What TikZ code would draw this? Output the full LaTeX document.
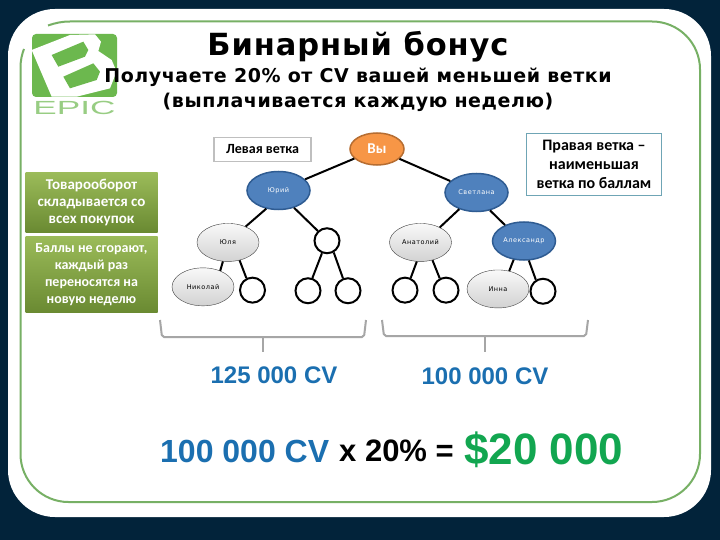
\documentclass[tikz,border=0pt]{standalone}
\usepackage{fontspec}
\setmainfont{Liberation Sans}
\newfontfamily\titlefont[LetterSpace=3]{DejaVu Sans}
\newfontfamily\treefont[LetterSpace=8]{DejaVu Sans}
\newfontfamily\boxfont{Carlito}
\usetikzlibrary{positioning,shapes.geometric}
\definecolor{backdrop}{HTML}{02233A}
\definecolor{framegreen}{HTML}{77B065}
\definecolor{logogreen}{HTML}{6CB84E}
\definecolor{cvblue}{HTML}{1B6FB0}
\definecolor{sumgreen}{HTML}{12A650}
\definecolor{youfill}{HTML}{F79646}
\definecolor{youline}{HTML}{B66D31}
\definecolor{bluefill}{HTML}{4F81BD}
\definecolor{blueline}{HTML}{2F5C92}
\definecolor{boxtop}{HTML}{9BBB59}
\definecolor{boxbottom}{HTML}{6A8A32}
\definecolor{noteline}{HTML}{6FA5B5}

\begin{document}
\begin{tikzpicture}[
  x=1pt, y=-1pt,
  font=\treefont,
  node distance=10pt and 10pt,
  you/.style={draw=youline, line width=1.5pt, ellipse, fill=youfill, text=white,
              minimum width=54pt, minimum height=32pt, inner sep=0pt},
  bluenode/.style={draw=blueline, line width=1.5pt, ellipse, fill=bluefill, text=white,
              minimum width=63pt, minimum height=38pt, inner sep=0pt, font=\treefont\fontsize{6.5}{7}\selectfont},
  graynode/.style={draw=black!75, ellipse, top color=gray!5, bottom color=gray!35,
              minimum width=62pt, minimum height=38pt, inner sep=0pt, font=\treefont\fontsize{6.5}{7}\selectfont},
  emptynode/.style={draw=black, line width=2pt, circle, fill=white, minimum size=25pt, inner sep=0pt},
  edge/.style={draw=black, line width=2pt},
  brace/.style={draw=gray!70, line width=2pt, rounded corners=2pt},
  greenbox/.style={top color=boxtop, bottom color=boxbottom, text=white,
              align=center, minimum width=132pt, inner sep=0pt,
              font=\boxfont\bfseries\fontsize{14}{17}\selectfont},
  note/.style={draw, fill=white, align=center, inner sep=0pt, font=\boxfont\bfseries\fontsize{14}{19}\selectfont},
  cvtext/.style={text=cvblue, font=\bfseries\fontsize{24}{28}\selectfont, inner sep=0pt}
]
\useasboundingbox (0,0) rectangle (720,540);
\fill[backdrop] (0,0) rectangle (720,540);
\fill[white, rounded corners=47pt] (8,9) rectangle (711,517);
% frame, open at the upper left corner
\draw[framegreen, line width=2pt] (48,25.5) .. controls (55,23) and (62,21.5) .. (70,21.5) -- (652,21.5)
  arc[start angle=-90, end angle=0, radius=48] -- (700,454)
  arc[start angle=0, end angle=90, radius=48] -- (68.5,502)
  arc[start angle=90, end angle=180, radius=48] -- (20.5,68) .. controls (20.5,60) and (22,54) .. (24,49);
% logo
\fill[logogreen, rounded corners=4pt] (32,34) rectangle (117,97);
\begin{scope}[shift={(20,25)}, x=0.3333pt, y=-0.3333pt]
  \fill[white] (35,75) -- (150,30) -- (225,28) -- (243,50) -- (235,78) -- (275,105) -- (290,140)
    -- (270,190) -- (170,215) -- (95,215) -- cycle;
  \fill[logogreen] (95,90) -- (190,50) -- (205,75) -- (195,95) -- (115,125) -- cycle;
  \fill[logogreen] (130,155) -- (220,115) -- (240,140) -- (230,165) -- (150,190) -- cycle;
\end{scope}
\node[xscale=1.85, text=logogreen!70!white, font=\fontsize{19}{20}\selectfont, inner sep=0pt] (epic) at (74.5,108) {EPIC};
% headings
\node[font=\titlefont\bfseries\fontsize{30.5}{34}\selectfont, inner sep=0pt] (title) at (358,47) {Бинарный бонус};
\node[font=\titlefont\bfseries\fontsize{19}{25}\selectfont, align=center, inner sep=0pt, below=5pt of title] (subtitle)
  {Получаете 20\% от CV вашей меньшей ветки\\(выплачивается каждую неделю)};
% tree
\node[you, font=\boxfont\bfseries\fontsize{15}{16}\selectfont] (you) at (377,149) {Вы};
\node[bluenode] (yuri) at (278.5,190.5) {Юрий};
\node[bluenode] (svetlana) at (476.5,192.5) {Светлана};
\node[graynode, below=13pt of yuri, xshift=-50.5pt] (yulya) {Юля};
\node[emptynode, below=17pt of yuri, xshift=48.5pt] (c1) {};
\node[graynode, below=6pt of yulya, xshift=-25pt] (nikolay) {Николай};
\node[emptynode, below=15pt of yulya, xshift=24.5pt] (c2) {};
\node[emptynode, below=23pt of c1, xshift=-19pt] (c3) {};
\node[emptynode, below=23pt of c1, xshift=21pt] (c4) {};
\node[graynode, below=11pt of svetlana, xshift=-56pt] (anatoly) {Анатолий};
\node[bluenode, below=9pt of svetlana, xshift=47.5pt] (alexandr) {Александр};
\node[emptynode, below=15pt of anatoly, xshift=-15.5pt] (c5) {};
\node[emptynode, below=15pt of anatoly, xshift=25.5pt] (c6) {};
\node[graynode, below=9pt of alexandr, xshift=-26pt] (inna) {Инна};
\node[emptynode, below=17pt of alexandr, xshift=19pt] (c7) {};
\draw[edge] (you) -- (yuri);
\draw[edge] (you) -- (svetlana);
\draw[edge] (yuri.236) -- (yulya.42);
\draw[edge] (yuri.312) -- (c1.133);
\draw[edge] (yulya.255) -- (nikolay.43);
\draw[edge] (yulya.303) -- (c2.117);
\draw[edge] (c1.248) -- (c3.71);
\draw[edge] (c1.300) -- (c4.112);
\draw[edge] (svetlana.224) -- (anatoly.38);
\draw[edge] (svetlana.307) -- (alexandr.140);
\draw[edge] (anatoly.259) -- (c5.65);
\draw[edge] (anatoly.304) -- (c6.118);
\draw[edge] (alexandr.241) -- (inna.58);
\draw[edge] (alexandr.284) -- (c7.122);
% notes
\node[note, draw=gray!50, line width=1.5pt, minimum width=97pt, minimum height=24pt] (left) at (262.5,149.5) {Левая ветка};
\node[note, draw=noteline, line width=1.5pt, minimum width=135pt, minimum height=62pt,
  font=\boxfont\bfseries\fontsize{16}{19}\selectfont] (right) at (594,164.5)
  {Правая ветка –\\наименьшая\\ветка по баллам};
\node[greenbox, minimum height=59pt, font=\boxfont\bfseries\fontsize{15}{17}\selectfont] (turnover) at (91.5,202.5)
  {Товарооборот\\складывается со\\всех покупок};
\node[greenbox, minimum height=76pt, below=4pt of turnover] (points) {Баллы не сгорают,\\каждый раз\\переносятся на\\новую неделю};
% brackets
\coordinate (lbrace) at (262.5,337);
\coordinate (rbrace) at (484.5,336);
\draw[brace] (160,320) -- (162,337) -- (364,337) -- (366,320);
\draw[brace] (lbrace) -- (262.5,352);
\draw[brace] (382,320) -- (384,336) -- (586,336) -- (588,320);
\draw[brace] (rbrace) -- (484.5,352);
% sums
\node[cvtext] (lsum) at (274,375) {125 000 CV};
\node[cvtext] (rsum) at (485,376) {100 000 CV};
\node[cvtext, font=\bfseries\fontsize{32}{36}\selectfont, anchor=west] (base) at (160,451) {100 000 CV};
\node[font=\bfseries\fontsize{31}{36}\selectfont, anchor=west, inner sep=0pt] (rate) at (339,451) {x 20\% =};
\node[text=sumgreen, font=\bfseries\fontsize{44}{50}\selectfont, anchor=west, inner sep=0pt] (sum) at (464,450) {\$20 000};
\end{tikzpicture}
\end{document}
